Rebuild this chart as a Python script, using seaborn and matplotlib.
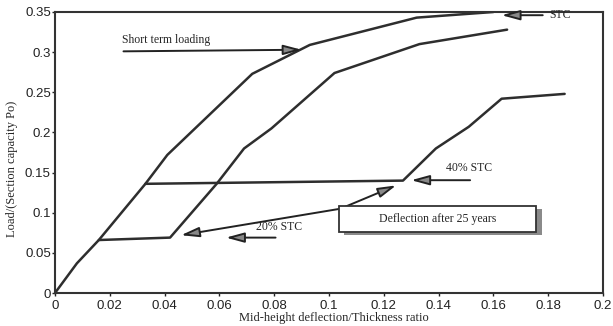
import pandas as pd
import matplotlib
matplotlib.use('Agg')
import matplotlib.pyplot as plt
import seaborn as sns
from matplotlib.patches import Rectangle

# Short term loading curve
stc_x = [0, 0.008, 0.016, 0.033, 0.041, 0.072, 0.093, 0.132, 0.160]
stc_y = [0, 0.037, 0.066, 0.136, 0.172, 0.273, 0.309, 0.343, 0.350]

# 20% STC sustained load, then reloading
stc20_x = [0.016, 0.042, 0.059, 0.069, 0.079, 0.102, 0.133, 0.165]
stc20_y = [0.066, 0.069, 0.136, 0.180, 0.205, 0.274, 0.310, 0.328]

# 40% STC sustained load, then reloading
stc40_x = [0.033, 0.127, 0.139, 0.151, 0.163, 0.186]
stc40_y = [0.136, 0.140, 0.180, 0.207, 0.242, 0.248]

x_ticks = [0, 0.02, 0.04, 0.06, 0.08, 0.1, 0.12, 0.14, 0.16, 0.18, 0.2]
y_ticks = [0, 0.05, 0.1, 0.15, 0.2, 0.25, 0.3, 0.35]

sns.set_style('ticks')
plt.rcParams['font.family'] = ['Liberation Sans', 'DejaVu Sans']

line_color = '#2e2e2e'
serif = ['Liberation Serif', 'DejaVu Serif']

fig = plt.figure(figsize=(6.13, 3.26), dpi=100)
ax = fig.add_axes([0.0897, 0.1012, 0.894, 0.862])

curves = [(stc_x, stc_y), (stc20_x, stc20_y), (stc40_x, stc40_y)]
for cx, cy in curves:
    df = pd.DataFrame({'x': cx, 'y': cy})
    sns.lineplot(data=df, x='x', y='y', sort=False, estimator=None,
                 color=line_color, linewidth=1.8, ax=ax)

ax.set_xlim(0, 0.2)
ax.set_ylim(0, 0.35)
ax.set_xticks(x_ticks)
ax.set_xticklabels(['0', '0.02', '0.04', '0.06', '0.08', '0.1', '0.12',
                    '0.14', '0.16', '0.18', '0.2'])
ax.set_yticks(y_ticks)
ax.set_yticklabels(['0', '0.05', '0.1', '0.15', '0.2', '0.25', '0.3', '0.35'])
ax.tick_params(axis='both', labelsize=9.5, length=2, width=1,
               colors='#222222')
ax.tick_params(axis='x', pad=3)
ax.tick_params(axis='y', pad=1)
for sp in ax.spines.values():
    sp.set_linewidth(1.5)
    sp.set_color('#333333')

ax.set_xlabel('Mid-height deflection/Thickness ratio', family=serif,
              fontsize=9)
ax.set_ylabel('Load/(Section capacity Po)', family=serif, fontsize=9)
ax.xaxis.set_label_coords(0.509, -0.066)
ax.yaxis.set_label_coords(-0.068, 0.44)

arrow = dict(arrowstyle='-|>,head_length=1.1,head_width=0.3',
             fc='#888888', ec='#222222', lw=1.4, shrinkA=0, shrinkB=0)
fs = 8.5

# Short term loading label + arrow
ax.text(0.0246, 0.308, 'Short term loading', family=serif, fontsize=fs,
        va='bottom', ha='left')
ax.annotate('', xy=(0.090, 0.303), xytext=(0.025, 0.301), arrowprops=arrow)

# STC
ax.text(0.1805, 0.346, 'STC', family=serif, fontsize=fs, va='center',
        ha='left')
ax.annotate('', xy=(0.163, 0.346), xytext=(0.178, 0.346), arrowprops=arrow)

# 40% STC
ax.text(0.151, 0.148, '40% STC', family=serif, fontsize=fs, va='bottom',
        ha='center')
ax.annotate('', xy=(0.130, 0.1405), xytext=(0.1515, 0.1405),
            arrowprops=arrow)

# 20% STC
ax.text(0.0818, 0.0745, '20% STC', family=serif, fontsize=fs, va='bottom',
        ha='center')
ax.annotate('', xy=(0.0624, 0.069), xytext=(0.0805, 0.069),
            arrowprops=arrow)

# Deflection after 25 years box and arrows
ax.annotate('', xy=(0.046, 0.072), xytext=(0.1042, 0.105), arrowprops=arrow)
ax.annotate('', xy=(0.1245, 0.134), xytext=(0.1042, 0.105), arrowprops=arrow)
ax.add_patch(Rectangle((0.1056, 0.0725), 0.072, 0.032, facecolor='#8a8a8a',
                       edgecolor='none', zorder=4))
ax.add_patch(Rectangle((0.1036, 0.076), 0.072, 0.032, facecolor='white',
                       edgecolor='#333333', lw=1.3, zorder=5))
ax.text(0.1396, 0.092, 'Deflection after 25 years', family=serif,
        fontsize=fs, va='center', ha='center', zorder=6)

fig.savefig('out.png', dpi=100)
